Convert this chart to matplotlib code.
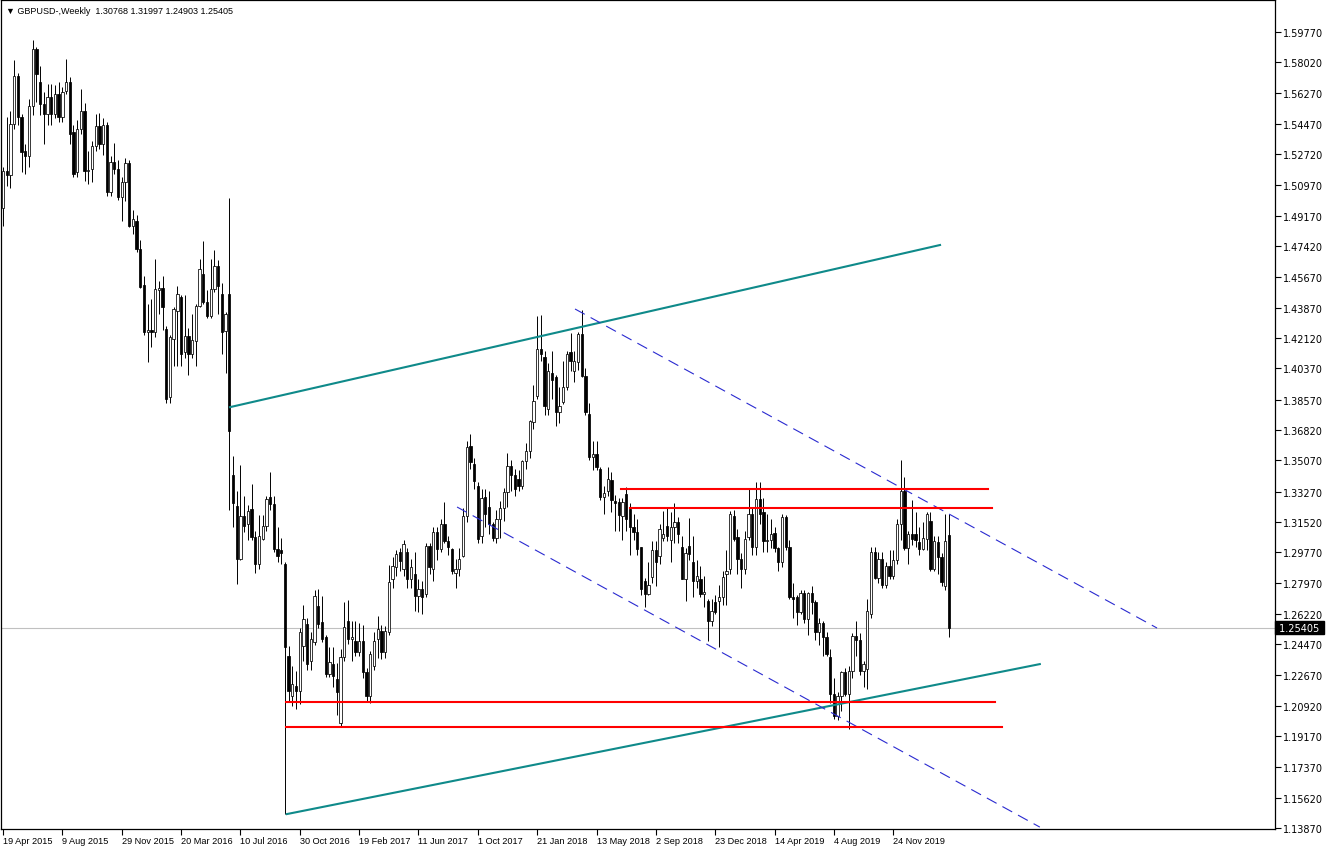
import numpy as np
import matplotlib
matplotlib.use('Agg')
from matplotlib import pyplot as plt

plt.rcParams['font.family'] = ['Liberation Sans', 'DejaVu Sans']

# weekly GBPUSD bars, 19 Apr 2015 .. 8 Mar 2020
opens = [
    1.4960, 1.5175, 1.5150, 1.5446, 1.5723, 1.5487, 1.5290, 1.5260, 1.5550, 1.5880,
    1.5690, 1.5560, 1.5505, 1.5600, 1.5505, 1.5620, 1.5490, 1.5640, 1.5690, 1.5400,
    1.5170, 1.5420, 1.5520, 1.5175, 1.5185, 1.5320, 1.5435, 1.5330, 1.5440, 1.5055,
    1.5230, 1.5190, 1.5025, 1.5110, 1.5220, 1.4860, 1.4890, 1.4725, 1.4520, 1.4247,
    1.4260, 1.4250, 1.4490, 1.4500, 1.4264, 1.3870, 1.4207, 1.4370, 1.4450, 1.4132,
    1.4224, 1.4120, 1.4195, 1.4395, 1.4580, 1.4420, 1.4340, 1.4495, 1.4630, 1.4466,
    1.4253, 1.4466, 1.3420, 1.3243, 1.2940, 1.3186, 1.3140, 1.3226, 1.3064, 1.2909,
    1.3053, 1.3128, 1.3295, 1.3255, 1.2995, 1.2990, 1.2909, 1.2378, 1.2148, 1.2206,
    1.2177, 1.2436, 1.2563, 1.2350, 1.2459, 1.2667, 1.2575, 1.2488, 1.2275, 1.2333,
    1.2246, 1.1990, 1.2373, 1.2581, 1.2477, 1.2465, 1.2402, 1.2465, 1.2286, 1.2148,
    1.2321, 1.2477, 1.2523, 1.2400, 1.2517, 1.2823, 1.2892, 1.2978, 1.2880, 1.2978,
    1.2822, 1.2851, 1.2725, 1.2765, 1.2736, 1.3013, 1.2880, 1.3094, 1.2995, 1.3140,
    1.3040, 1.2995, 1.2860, 1.2880, 1.2955, 1.3186, 1.3590, 1.3486, 1.3359, 1.3070,
    1.3295, 1.3240, 1.3140, 1.3060, 1.3170, 1.3230, 1.3324, 1.3474, 1.3420, 1.3400,
    1.3359, 1.3503, 1.3561, 1.3728, 1.3878, 1.4149, 1.4103, 1.3803, 1.4010, 1.3987,
    1.3786, 1.3843, 1.3930, 1.4132, 1.4022, 1.4074, 1.4236, 1.3994, 1.3774, 1.3526,
    1.3543, 1.3457, 1.3295, 1.3330, 1.3395, 1.3272, 1.3266, 1.3186, 1.3313, 1.3226,
    1.3122, 1.3094, 1.3007, 1.2811, 1.2736, 1.2834, 1.2990, 1.2955, 1.3060, 1.3128,
    1.3050, 1.3120, 1.3150, 1.3007, 1.2823, 1.3013, 1.2920, 1.2811, 1.2823, 1.2736,
    1.2695, 1.2580, 1.2690, 1.2695, 1.2719, 1.2850, 1.2880, 1.3186, 1.3064, 1.2938,
    1.2880, 1.3064, 1.3197, 1.3010, 1.3284, 1.3209, 1.3040, 1.3050, 1.3090, 1.3000,
    1.2920, 1.3180, 1.3010, 1.2720, 1.2720, 1.2630, 1.2740, 1.2590, 1.2740, 1.2690,
    1.2520, 1.2570, 1.2490, 1.2373, 1.2160, 1.2030, 1.2150, 1.2286, 1.2160, 1.2290,
    1.2494, 1.2470, 1.2290, 1.2304, 1.2620, 1.2978, 1.2830, 1.2940, 1.2790, 1.2900,
    1.2840, 1.2930, 1.3140, 1.3330, 1.3000, 1.3080, 1.3080, 1.3036, 1.2995, 1.3053,
    1.3157, 1.2880, 1.3036, 1.2949, 1.2782, 1.30768,
]
highs = [
    1.5200, 1.5490, 1.5520, 1.5815, 1.5740, 1.5505, 1.5330, 1.5590, 1.5930, 1.5890,
    1.5780, 1.5630, 1.5680, 1.5680, 1.5670, 1.5690, 1.5660, 1.5820, 1.5720, 1.5440,
    1.5470, 1.5650, 1.5570, 1.5290, 1.5350, 1.5505, 1.5510, 1.5480, 1.5460, 1.5260,
    1.5340, 1.5240, 1.5140, 1.5250, 1.5240, 1.4950, 1.4920, 1.4780, 1.4570, 1.4410,
    1.4440, 1.4670, 1.4540, 1.4570, 1.4280, 1.4230, 1.4390, 1.4515, 1.4460, 1.4460,
    1.4270, 1.4350, 1.4410, 1.4670, 1.4770, 1.4490, 1.4670, 1.4720, 1.4660, 1.4530,
    1.4360, 1.5018, 1.3530, 1.3330, 1.3480, 1.3300, 1.3250, 1.3370, 1.3100, 1.3190,
    1.3190, 1.3300, 1.3440, 1.3300, 1.3120, 1.3060, 1.2920, 1.2436, 1.2320, 1.2290,
    1.2540, 1.2670, 1.2600, 1.2520, 1.2760, 1.2765, 1.2725, 1.2500, 1.2430, 1.2430,
    1.2340, 1.2420, 1.2690, 1.2700, 1.2580, 1.2580, 1.2570, 1.2560, 1.2310, 1.2410,
    1.2520, 1.2610, 1.2560, 1.2550, 1.2905, 1.2950, 1.2990, 1.3000, 1.3050, 1.3000,
    1.2940, 1.2980, 1.2820, 1.2810, 1.3030, 1.3030, 1.3120, 1.3120, 1.3170, 1.3267,
    1.3070, 1.3000, 1.2940, 1.3000, 1.3230, 1.3620, 1.3659, 1.3520, 1.3380, 1.3340,
    1.3340, 1.3330, 1.3150, 1.3220, 1.3270, 1.3350, 1.3550, 1.3510, 1.3460, 1.3450,
    1.3510, 1.3610, 1.3740, 1.3940, 1.4339, 1.4345, 1.4140, 1.4070, 1.4140, 1.4000,
    1.3930, 1.4080, 1.4140, 1.4240, 1.4140, 1.4250, 1.4377, 1.4040, 1.3840, 1.3620,
    1.3620, 1.3470, 1.3360, 1.3470, 1.3440, 1.3310, 1.3290, 1.3290, 1.3353, 1.3260,
    1.3200, 1.3170, 1.3010, 1.2830, 1.2920, 1.3040, 1.3040, 1.3140, 1.3215, 1.3230,
    1.3210, 1.3260, 1.3180, 1.3070, 1.3000, 1.3175, 1.3070, 1.2930, 1.2900, 1.2840,
    1.2710, 1.2710, 1.2730, 1.2790, 1.2870, 1.2990, 1.3215, 1.3220, 1.3110, 1.2970,
    1.3100, 1.3350, 1.3240, 1.3380, 1.3382, 1.3290, 1.3200, 1.3170, 1.3120, 1.3010,
    1.3200, 1.3190, 1.3050, 1.2800, 1.2730, 1.2760, 1.2760, 1.2750, 1.2780, 1.2700,
    1.2600, 1.2580, 1.2520, 1.2420, 1.2250, 1.2170, 1.2290, 1.2310, 1.2320, 1.2510,
    1.2580, 1.2510, 1.2350, 1.2710, 1.3010, 1.3010, 1.2980, 1.2980, 1.2920, 1.2990,
    1.2990, 1.3170, 1.3510, 1.3411, 1.3100, 1.3280, 1.3210, 1.3120, 1.3150, 1.3210,
    1.3210, 1.3070, 1.3070, 1.2970, 1.3200, 1.31997,
]
lows = [
    1.4860, 1.5090, 1.5080, 1.5420, 1.5440, 1.5170, 1.5160, 1.5200, 1.5500, 1.5575,
    1.5500, 1.5330, 1.5440, 1.5440, 1.5480, 1.5460, 1.5460, 1.5620, 1.5330, 1.5140,
    1.5140, 1.5390, 1.5120, 1.5100, 1.5110, 1.5290, 1.5300, 1.5270, 1.5030, 1.5030,
    1.5160, 1.5010, 1.4890, 1.5000, 1.4850, 1.4810, 1.4710, 1.4500, 1.4230, 1.4075,
    1.4160, 1.4220, 1.4350, 1.4260, 1.3840, 1.3835, 1.4050, 1.4050, 1.4050, 1.4100,
    1.4000, 1.4100, 1.4050, 1.4390, 1.4410, 1.4330, 1.4330, 1.4480, 1.4350, 1.4120,
    1.4010, 1.3222, 1.3120, 1.2795, 1.2930, 1.3094, 1.3050, 1.3050, 1.2860, 1.2880,
    1.3050, 1.3100, 1.3220, 1.2980, 1.2920, 1.2910, 1.1467, 1.2113, 1.2090, 1.2073,
    1.2100, 1.2350, 1.2300, 1.2300, 1.2440, 1.2540, 1.2460, 1.2260, 1.2260, 1.2200,
    1.2040, 1.1975, 1.2350, 1.2450, 1.2350, 1.2380, 1.2380, 1.2250, 1.2115, 1.2110,
    1.2300, 1.2370, 1.2360, 1.2370, 1.2500, 1.2770, 1.2840, 1.2870, 1.2840, 1.2770,
    1.2770, 1.2640, 1.2630, 1.2620, 1.2720, 1.2850, 1.2810, 1.2930, 1.2980, 1.3030,
    1.2960, 1.2850, 1.2770, 1.2840, 1.2950, 1.3150, 1.3460, 1.3340, 1.3030, 1.3030,
    1.3120, 1.3080, 1.3040, 1.3030, 1.3060, 1.3160, 1.3240, 1.3330, 1.3300, 1.3330,
    1.3340, 1.3460, 1.3520, 1.3690, 1.3860, 1.4080, 1.3770, 1.3770, 1.3860, 1.3705,
    1.3720, 1.3830, 1.3910, 1.4020, 1.3960, 1.4030, 1.3990, 1.3770, 1.3510, 1.3450,
    1.3450, 1.3280, 1.3200, 1.3300, 1.3210, 1.3100, 1.3100, 1.3050, 1.3100, 1.2960,
    1.3050, 1.2960, 1.2730, 1.2661, 1.2730, 1.2800, 1.2785, 1.2910, 1.3040, 1.3040,
    1.2920, 1.3030, 1.3030, 1.2820, 1.2695, 1.2930, 1.2720, 1.2770, 1.2720, 1.2660,
    1.2465, 1.2550, 1.2620, 1.2430, 1.2670, 1.2670, 1.2850, 1.3040, 1.2850, 1.2770,
    1.2850, 1.3050, 1.2960, 1.2960, 1.3140, 1.2980, 1.2980, 1.3000, 1.2980, 1.2870,
    1.2890, 1.2990, 1.2710, 1.2600, 1.2560, 1.2620, 1.2570, 1.2500, 1.2620, 1.2470,
    1.2440, 1.2380, 1.2380, 1.2110, 1.2015, 1.2010, 1.2060, 1.2150, 1.1958, 1.2250,
    1.2380, 1.2270, 1.2200, 1.2190, 1.2600, 1.2820, 1.2800, 1.2770, 1.2770, 1.2820,
    1.2820, 1.2910, 1.3050, 1.2990, 1.2910, 1.3020, 1.3010, 1.2960, 1.2990, 1.2990,
    1.2870, 1.2870, 1.2850, 1.2780, 1.2760, 1.24903,
]
closes = [
    1.5175, 1.5150, 1.5446, 1.5723, 1.5487, 1.5285, 1.5260, 1.5550, 1.5880, 1.5735,
    1.5560, 1.5505, 1.5600, 1.5505, 1.5620, 1.5490, 1.5630, 1.5690, 1.5390, 1.5158,
    1.5420, 1.5520, 1.5175, 1.5180, 1.5320, 1.5435, 1.5330, 1.5440, 1.5055, 1.5230,
    1.5190, 1.5025, 1.5110, 1.5220, 1.4860, 1.4900, 1.4725, 1.4507, 1.4247, 1.4260,
    1.4250, 1.4495, 1.4500, 1.4390, 1.3860, 1.4220, 1.4380, 1.4466, 1.4120, 1.4224,
    1.4120, 1.4200, 1.4395, 1.4610, 1.4420, 1.4340, 1.4495, 1.4630, 1.4510, 1.4247,
    1.4351, 1.3676, 1.3260, 1.2940, 1.3186, 1.3128, 1.3214, 1.3064, 1.2909, 1.3070,
    1.3128, 1.3284, 1.3255, 1.2995, 1.2955, 1.2970, 1.2430, 1.2177, 1.2217, 1.2177,
    1.2517, 1.2592, 1.2332, 1.2477, 1.2725, 1.2563, 1.2477, 1.2275, 1.2344, 1.2263,
    1.2171, 1.2373, 1.2546, 1.2477, 1.2490, 1.2402, 1.2465, 1.2286, 1.2148, 1.2390,
    1.2465, 1.2534, 1.2400, 1.2523, 1.2805, 1.2897, 1.2967, 1.2927, 1.3024, 1.2822,
    1.2892, 1.2725, 1.2765, 1.2720, 1.3013, 1.2890, 1.3094, 1.2995, 1.3140, 1.3040,
    1.3010, 1.2869, 1.2880, 1.2940, 1.3186, 1.3584, 1.3497, 1.3388, 1.3053, 1.3290,
    1.3197, 1.3140, 1.3060, 1.3170, 1.3230, 1.3324, 1.3474, 1.3420, 1.3340, 1.3360,
    1.3503, 1.3561, 1.3734, 1.3849, 1.4149, 1.4120, 1.3820, 1.4022, 1.3970, 1.3786,
    1.3820, 1.3930, 1.4120, 1.4080, 1.4080, 1.4236, 1.3994, 1.3786, 1.3526, 1.3543,
    1.3468, 1.3295, 1.3320, 1.3399, 1.3280, 1.3260, 1.3190, 1.3266, 1.3168, 1.3122,
    1.3094, 1.2995, 1.2765, 1.2736, 1.2790, 1.2990, 1.2920, 1.3111, 1.3080, 1.3070,
    1.3120, 1.3150, 1.3080, 1.2823, 1.2970, 1.2967, 1.2811, 1.2840, 1.2736, 1.2745,
    1.2580, 1.2638, 1.2632, 1.2719, 1.2834, 1.2870, 1.3197, 1.3053, 1.2938, 1.2880,
    1.3053, 1.3197, 1.3010, 1.3284, 1.3200, 1.3040, 1.3050, 1.3080, 1.3000, 1.2920,
    1.3180, 1.3010, 1.2720, 1.2710, 1.2630, 1.2740, 1.2590, 1.2740, 1.2690, 1.2520,
    1.2570, 1.2490, 1.2390, 1.2160, 1.2030, 1.2150, 1.2286, 1.2160, 1.2290, 1.2494,
    1.2470, 1.2290, 1.2330, 1.2638, 1.2978, 1.2830, 1.2940, 1.2790, 1.2900, 1.2840,
    1.2930, 1.3140, 1.3330, 1.3000, 1.3080, 1.3055, 1.3050, 1.2995, 1.3060, 1.3197,
    1.2880, 1.3040, 1.2950, 1.2805, 1.3040, 1.25405,
]

date_ticks = [0, 16, 32, 48, 64, 80, 96, 112, 128, 144, 160, 176, 192, 208, 224, 240]
date_labels = ['19 Apr 2015', '9 Aug 2015', '29 Nov 2015', '20 Mar 2016', '10 Jul 2016',
               '30 Oct 2016', '19 Feb 2017', '11 Jun 2017', '1 Oct 2017', '21 Jan 2018',
               '13 May 2018', '2 Sep 2018', '23 Dec 2018', '14 Apr 2019', '4 Aug 2019',
               '24 Nov 2019']
price_labels = ['1.59770', '1.58020', '1.56270', '1.54470', '1.52720', '1.50970', '1.49170',
                '1.47420', '1.45670', '1.43870', '1.42120', '1.40370', '1.38570', '1.36820',
                '1.35070', '1.33270', '1.31520', '1.29770', '1.27970', '1.26220', '1.24470',
                '1.22670', '1.20920', '1.19170', '1.17370', '1.15620', '1.13870']
price_ticks = [float(s) for s in price_labels]

last_price = 1.25405
header = '\u25bc GBPUSD-,Weekly  1.30768 1.31997 1.24903 1.25405'

# drawn objects: (bar, price) anchors
teal_lines = [((61.2, 1.3814), (252.6, 1.4749)),
              ((76.5, 1.1467), (279.5, 1.2332))]
blue_lines = [((154.2, 1.4380), (311.1, 1.2540)),
              ((122.4, 1.3238), (279.5, 1.1392))]
red_levels = [(1.3341, 166.6, 265.5), (1.3232, 169.0, 266.6),
              (1.2113, 76.3, 267.4), (1.1969, 76.3, 269.3)]

o = np.array(opens)
h = np.array(highs)
l = np.array(lows)
c = np.array(closes)
x = np.arange(len(c))
up = c >= o

fig = plt.figure(figsize=(13.32, 8.53), dpi=100)
ax = fig.add_axes([1 / 1332, 23 / 853, 1274 / 1332, 829 / 853])

ax.axhline(last_price, color='#c0c0c0', lw=0.8, zorder=0)

ax.vlines(x, l, h, color='black', lw=0.7, zorder=2)
body_lo = np.minimum(o, c)
body_h = np.maximum(np.abs(c - o), 0.0004)
ax.bar(x[up], body_h[up], bottom=body_lo[up], width=0.62, color='white',
       edgecolor='black', linewidth=0.55, zorder=3)
ax.bar(x[~up], body_h[~up], bottom=body_lo[~up], width=0.62, color='black',
       edgecolor='black', linewidth=0.55, zorder=3)

for (x0, y0), (x1, y1) in teal_lines:
    ax.plot([x0, x1], [y0, y1], color='#0f8a8a', lw=1.5, zorder=4)
for (x0, y0), (x1, y1) in blue_lines:
    ax.plot([x0, x1], [y0, y1], color='#2a2ad0', lw=0.8, dashes=(10, 6), zorder=4)
for y, x0, x1 in red_levels:
    ax.plot([x0, x1], [y, y], color='#ff0000', lw=1.5, zorder=4)

ax.set_xlim(-0.54, 342.9)
ax.set_ylim(1.1381, 1.6162)

ax.yaxis.tick_right()
ax.set_yticks(price_ticks, price_labels)
ax.tick_params(axis='y', direction='out', length=4, width=0.8, labelsize=7, pad=2)
for lbl in ax.get_yticklabels():
    lbl.set_family('DejaVu Sans')
ax.set_xticks(date_ticks, date_labels)
for lbl in ax.get_xticklabels():
    lbl.set_horizontalalignment('left')
ax.tick_params(axis='x', direction='out', length=4, width=0.8, labelsize=6.6, pad=1)
for sp in ax.spines.values():
    sp.set_linewidth(0.9)

ax.annotate(' 1.25405 ', xy=(1, last_price), xycoords=('axes fraction', 'data'),
            xytext=(1, 0), textcoords='offset points', ha='left', va='center',
            fontsize=7, color='white', family='DejaVu Sans',
            bbox=dict(boxstyle='square,pad=0.15', facecolor='black', edgecolor='black'))

ax.text(0.004, 0.993, header, transform=ax.transAxes, ha='left', va='top', fontsize=6.5)

fig.savefig('out.png', dpi=100)
